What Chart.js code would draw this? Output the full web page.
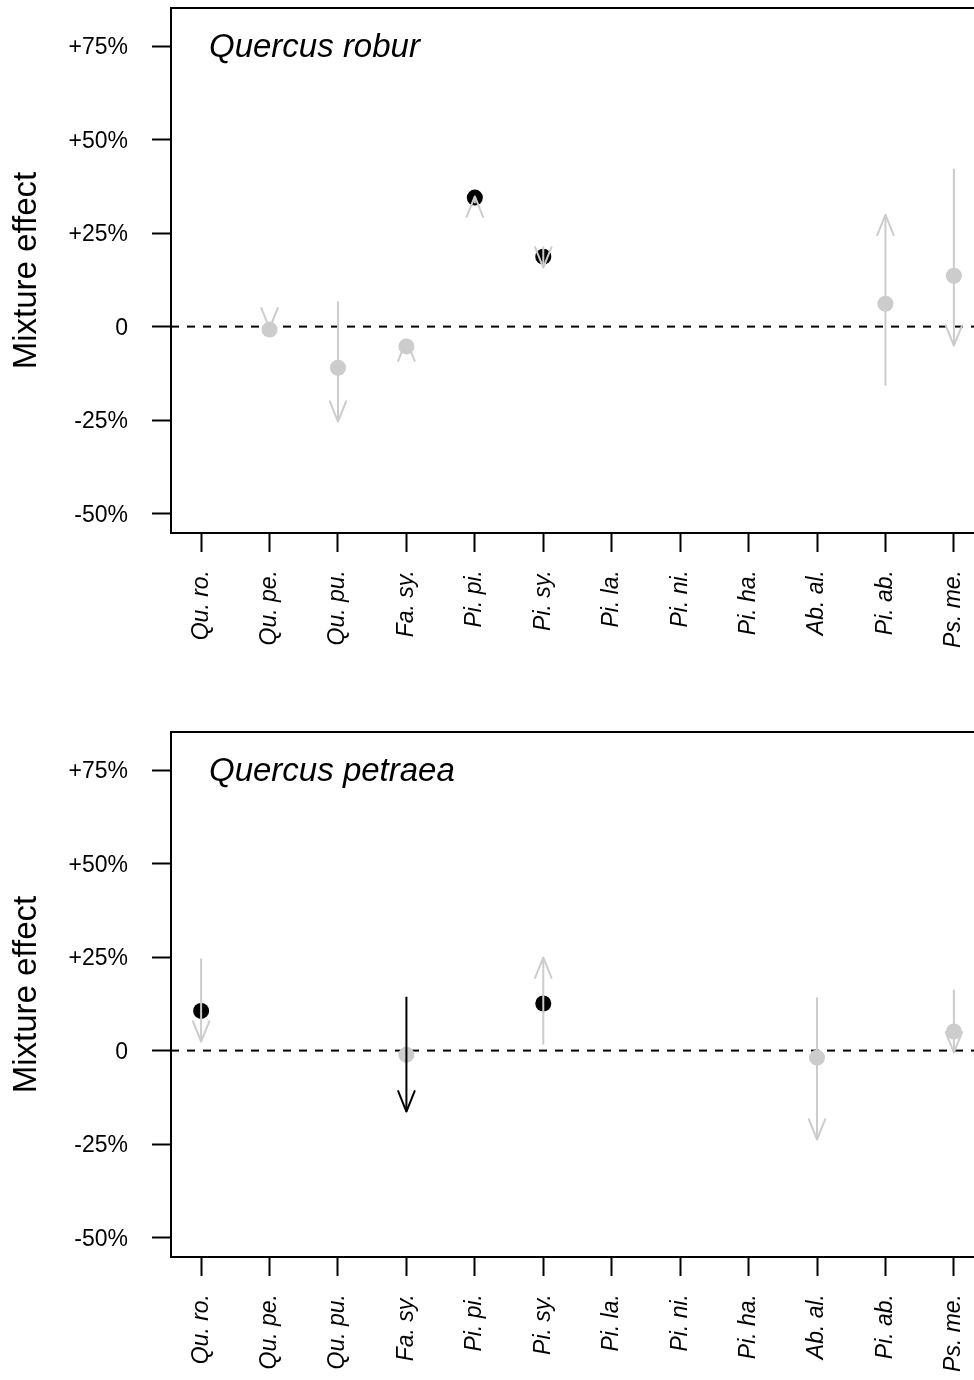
<!DOCTYPE html>
<html>
<head>
<meta charset="utf-8">
<title>Mixture effect</title>
<script src="https://cdn.jsdelivr.net/npm/chart.js@4.4.1/dist/chart.umd.min.js"></script>
<style>
    html, body { margin: 0; padding: 0; background: #ffffff; overflow: hidden; }
    #wrap { width: 974px; height: 1380px; overflow: hidden; }
    canvas { display: block; }
</style>
</head>
<body>
<div id="wrap">
    <canvas id="roburChart" width="1000" height="724"></canvas>
    <canvas id="petraeaChart" width="1000" height="724"></canvas>
</div>
<script>
// species on the x axis
const categories = ["Qu. ro.", "Qu. pe.", "Qu. pu.", "Fa. sy.", "Pi. pi.", "Pi. sy.",
    "Pi. la.", "Pi. ni.", "Pi. ha.", "Ab. al.", "Pi. ab.", "Ps. me."];
const yTickValues = [-50, -25, 0, 25, 50, 75];
const yTickLabels = ["-50%", "-25%", "0", "+25%", "+50%", "+75%"];

// Quercus robur (%)
const roburEffect = [null, -0.8, -11.0, -5.3, 34.5, 18.7, null, null, null, null, 6.1, 13.6];
const roburSignif = [0, 0, 0, 0, 1, 1, 0, 0, 0, 0, 0, 0];
const roburArrowFrom = [null, 1.0, 6.7, -6.5, 33.0, 21.4, null, null, null, null, -15.8, 42.2];
const roburArrowTo = [null, -0.5, -25.4, -3.7, 34.8, 15.8, null, null, null, null, 29.9, -5.1];
const roburArrowSignif = [0, 0, 0, 0, 0, 0, 0, 0, 0, 0, 0, 0];

// Quercus petraea (%)
const petraeaEffect = [10.6, null, null, -1.1, null, 12.6, null, null, null, -1.9, null, 5.1];
const petraeaSignif = [1, 0, 0, 0, 0, 1, 0, 0, 0, 0, 0, 0];
const petraeaArrowFrom = [24.6, null, null, 14.4, null, 1.6, null, null, null, 14.2, null, 16.3];
const petraeaArrowTo = [2.4, null, null, -16.3, null, 24.9, null, null, null, -23.8, null, -0.5];
const petraeaArrowSignif = [0, 0, 0, 1, 0, 0, 0, 0, 0, 0, 0, 0];

const BLACK = "#000000";
const GREY = "#cccccc";
const FONT = "'Liberation Sans', Arial, sans-serif";

// dashed zero line, arrow heads, box and panel title
const panelDecor = {
    id: "panelDecor",
    beforeDatasetsDraw(chart, args, opts) {
        const { ctx, chartArea: a, scales } = chart;
        const y0 = scales.y.getPixelForValue(0);
        ctx.save();
        ctx.strokeStyle = BLACK;
        ctx.lineWidth = 2;
        ctx.setLineDash([8, 8]);
        ctx.beginPath();
        ctx.moveTo(a.left, y0);
        ctx.lineTo(a.right, y0);
        ctx.stroke();
        ctx.restore();
    },
    afterDatasetsDraw(chart, args, opts) {
        const { ctx, chartArea: a, scales } = chart;
        ctx.save();
        ctx.lineWidth = 2;
        ctx.lineCap = "round";
        ctx.lineJoin = "round";
        const len = 22;
        const ang = 22 * Math.PI / 180;
        opts.from.forEach(function (f, i) {
            const t = opts.to[i];
            if (f === null || t === null) return;
            const x = scales.x.getPixelForValue(i + 1);
            const yf = scales.y.getPixelForValue(f);
            const yt = scales.y.getPixelForValue(t);
            const dir = yt > yf ? 1 : -1;
            const dy = len * Math.cos(ang) * dir;
            const dx = len * Math.sin(ang);
            ctx.strokeStyle = opts.signif[i] ? BLACK : GREY;
            ctx.beginPath();
            ctx.moveTo(x - dx, yt - dy);
            ctx.lineTo(x, yt);
            ctx.lineTo(x + dx, yt - dy);
            ctx.stroke();
        });
        ctx.strokeStyle = BLACK;
        ctx.lineCap = "butt";
        ctx.lineJoin = "miter";
        ctx.strokeRect(a.left, a.top, a.right - a.left, a.bottom - a.top);
        ctx.fillStyle = BLACK;
        ctx.font = "italic 33px " + FONT;
        ctx.textAlign = "left";
        ctx.textBaseline = "alphabetic";
        ctx.fillText(opts.title, a.left + 38, a.top + 49);
        ctx.restore();
    },
};

function makePanel(id, title, effect, signif, from, to, arrowSignif) {
    const ctx = document.getElementById(id);
    if (!ctx) return;

    const points = [];
    const pointColors = [];
    effect.forEach(function (v, i) {
        if (v === null) return;
        points.push({ x: i + 1, y: v });
        pointColors.push(signif[i] ? BLACK : GREY);
    });

    const arrows = [];
    from.forEach(function (f, i) {
        if (f === null || to[i] === null) return;
        arrows.push({
            type: "line",
            data: [{ x: i + 1, y: f }, { x: i + 1, y: to[i] }],
            borderColor: arrowSignif[i] ? BLACK : GREY,
            borderWidth: 2,
            pointRadius: 0,
            fill: false,
            order: 0,
        });
    });

    new Chart(ctx, {
        type: "scatter",
        data: {
            datasets: [
                {
                    data: points,
                    pointRadius: 8,
                    pointBackgroundColor: pointColors,
                    pointBorderWidth: 0,
                    order: 1,
                },
            ].concat(arrows),
        },
        options: {
            responsive: false,
            animation: false,
            layout: { padding: { top: 8, right: 16, left: 0, bottom: 0 } },
            plugins: {
                legend: { display: false },
                tooltip: { enabled: false },
                panelDecor: { title: title, from: from, to: to, signif: arrowSignif },
            },
            scales: {
                x: {
                    type: "linear",
                    min: 0.56,
                    max: 12.44,
                    afterFit: function (scale) {
                        scale.height = 191;
                        scale.paddingLeft = 0;
                        scale.paddingRight = 0;
                    },
                    afterBuildTicks: function (scale) {
                        scale.ticks = categories.map(function (c, i) { return { value: i + 1 }; });
                    },
                    border: { display: false },
                    grid: {
                        drawOnChartArea: false,
                        drawTicks: true,
                        tickLength: 19,
                        tickWidth: 2,
                        tickColor: BLACK,
                    },
                    ticks: {
                        autoSkip: false,
                        minRotation: 90,
                        maxRotation: 90,
                        padding: 18,
                        color: BLACK,
                        font: { family: FONT, size: 23, style: "italic" },
                        callback: function (v) { return categories[v - 1]; },
                    },
                },
                y: {
                    min: -55.2,
                    max: 85.2,
                    afterFit: function (scale) {
                        scale.width = 171;
                        scale.paddingTop = 0;
                        scale.paddingBottom = 0;
                    },
                    afterBuildTicks: function (scale) {
                        scale.ticks = yTickValues.map(function (v) { return { value: v }; });
                    },
                    border: { display: false },
                    grid: {
                        drawOnChartArea: false,
                        drawTicks: true,
                        tickLength: 19,
                        tickWidth: 2,
                        tickColor: BLACK,
                    },
                    ticks: {
                        padding: 24,
                        labelOffset: 2,
                        color: BLACK,
                        font: { family: FONT, size: 23 },
                        callback: function (v) { return yTickLabels[yTickValues.indexOf(v)]; },
                    },
                    title: {
                        display: true,
                        text: "Mixture effect",
                        color: BLACK,
                        padding: { top: 7, bottom: 0 },
                        font: { family: FONT, size: 33 },
                    },
                },
            },
        },
        plugins: [panelDecor],
    });
}

document.addEventListener("DOMContentLoaded", function () {
    makePanel("roburChart", "Quercus robur", roburEffect, roburSignif,
        roburArrowFrom, roburArrowTo, roburArrowSignif);
    makePanel("petraeaChart", "Quercus petraea", petraeaEffect, petraeaSignif,
        petraeaArrowFrom, petraeaArrowTo, petraeaArrowSignif);
});
</script>
</body>
</html>
